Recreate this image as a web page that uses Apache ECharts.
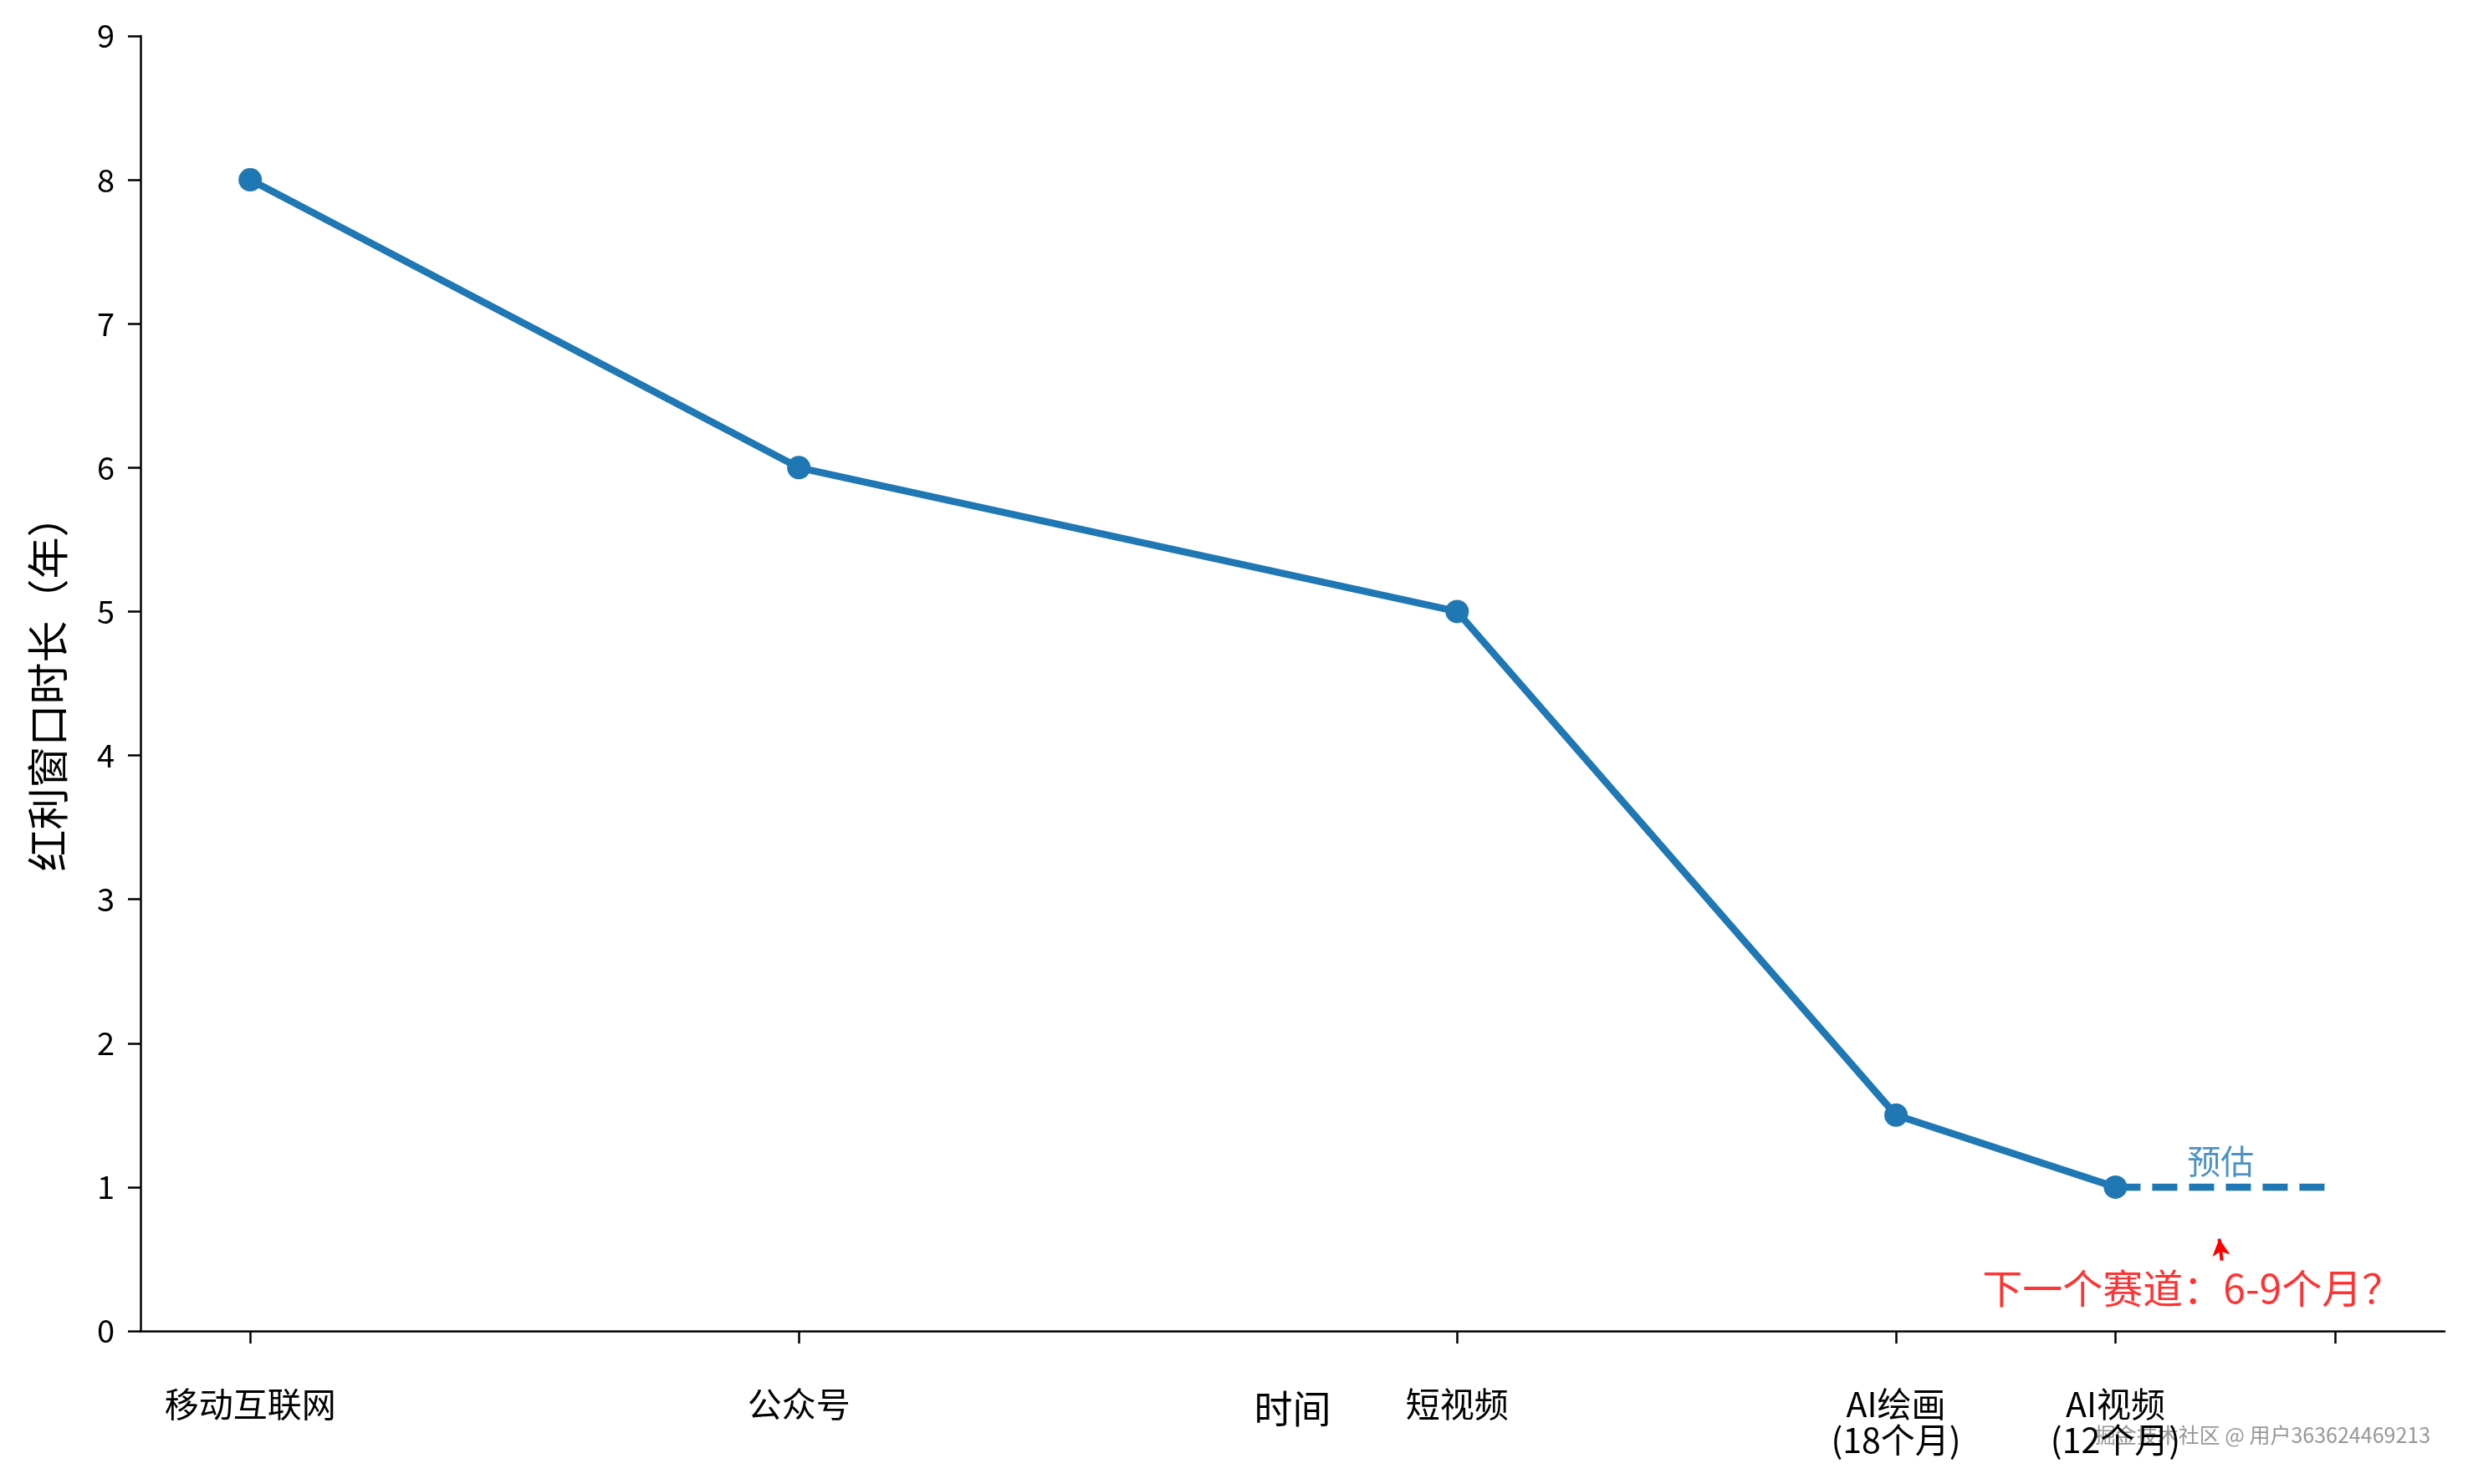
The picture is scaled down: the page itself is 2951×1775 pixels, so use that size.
<!DOCTYPE html>
<html><head><meta charset="utf-8">
<script src="https://cdn.jsdelivr.net/npm/echarts@6/dist/echarts.min.js"></script>
<style>html,body{margin:0;padding:0;background:#fff}#c{width:2951px;height:1775px}</style>
</head><body><div id="c"></div>
<script>
// ---- data ----
const tickPositions = [0, 2.5, 5.5, 7.5, 8.5, 9.5];
const tickLabels = ['移动互联网', '公众号', '短视频', 'AI绘画\n(18个月)', 'AI视频\n(12个月)', ''];
const stageX = [0, 2.5, 5.5, 7.5, 8.5];
const windowYears = [8, 6, 5, 1.5, 1];
const forecastX = [8.5, 9.5];
const forecastY = [1, 1];
const estimateLabel = ['预估'];
const estimatePos = [8.98, 1.18];
const nextTrackLabel = ['下一个赛道：6-9个月？'];
const nextTrackPos = [8.85, 0.3];
const arrowFrom = [8.985, 0.49];
const arrowTo = [8.973, 0.64];

const FONT = '"Noto Sans CJK SC", "Noto Sans", sans-serif';
const BLUE = '#1f77b4';

const chart = echarts.init(document.getElementById('c'), null, {renderer: 'canvas'});
chart.setOption({
  animation: false,
  backgroundColor: '#fff',
  textStyle: {fontFamily: FONT},
  grid: {left: 168, right: 28, top: 43, bottom: 183, outerBoundsMode: 'none', containLabel: false},
  xAxis: {
    type: 'value', min: -0.5, max: 10,
    name: '时间', nameLocation: 'middle', nameGap: 70, nameMoveOverlap: false,
    nameTextStyle: {fontSize: 46, color: '#000', fontFamily: FONT, verticalAlign: 'top'},
    axisLine: {show: true, onZero: false, lineStyle: {color: '#000', width: 2.5}},
    axisTick: {show: true, customValues: tickPositions, length: 15, lineStyle: {color: '#000', width: 2.5}},
    axisLabel: {
      show: true, customValues: tickPositions, fontSize: 41, color: '#000', fontFamily: FONT,
      margin: 66, lineHeight: 43, verticalAlign: 'top',
      formatter: v => { const i = tickPositions.findIndex(t => Math.abs(t - v) < 1e-6); return i >= 0 ? tickLabels[i] : ''; }
    },
    splitLine: {show: false}
  },
  yAxis: {
    type: 'value', min: 0, max: 9, interval: 1,
    name: '红利窗口时长（年）', nameLocation: 'middle', nameGap: 86, nameRotate: 90, nameMoveOverlap: false,
    nameTextStyle: {fontSize: 50, color: '#000', fontFamily: FONT},
    axisLine: {show: true, onZero: false, lineStyle: {color: '#000', width: 2.5}},
    axisTick: {show: true, length: 15, lineStyle: {color: '#000', width: 2.5}},
    axisLabel: {fontSize: 38, color: '#000', margin: 31, fontFamily: FONT},
    splitLine: {show: false}
  },
  series: [
    {
      type: 'line',
      data: stageX.map((x, i) => [x, windowYears[i]]),
      symbol: 'circle', symbolSize: 28,
      itemStyle: {color: BLUE},
      lineStyle: {color: BLUE, width: 8.5},
      z: 3
    },
    {
      type: 'line',
      data: forecastX.map((x, i) => [x, forecastY[i]]),
      symbol: 'none',
      lineStyle: {color: BLUE, width: 8.5, type: [30, 14], cap: 'butt'},
      z: 2
    },
    {
      type: 'scatter',
      data: [estimatePos],
      symbolSize: 1,
      itemStyle: {color: 'rgba(0,0,0,0)'},
      silent: true,
      label: {show: true, position: 'inside', formatter: estimateLabel[0], fontSize: 40, color: BLUE, fontFamily: FONT}
    },
    {
      type: 'scatter',
      data: [nextTrackPos],
      symbolSize: 1,
      itemStyle: {color: 'rgba(0,0,0,0)'},
      silent: true,
      label: {show: true, position: 'inside', formatter: nextTrackLabel[0], fontSize: 48, color: '#ff0000', fontFamily: FONT},
      markLine: {
        silent: true,
        symbol: ['none', 'arrow'], symbolSize: [16, 20],
        label: {show: false},
        lineStyle: {color: '#ff0000', width: 4, type: 'solid'},
        data: [[{coord: arrowFrom}, {coord: arrowTo}]]
      }
    }
  ],
  graphic: [
    {
      type: 'text', right: 44, top: 1703, silent: true,
      style: {text: '掘金技术社区 @ 用户363624469213', fontSize: 25, fontFamily: FONT,
        fill: 'rgba(140,140,140,0.9)', stroke: '#fff', lineWidth: 2}
    }
  ]
});
</script></body></html>
